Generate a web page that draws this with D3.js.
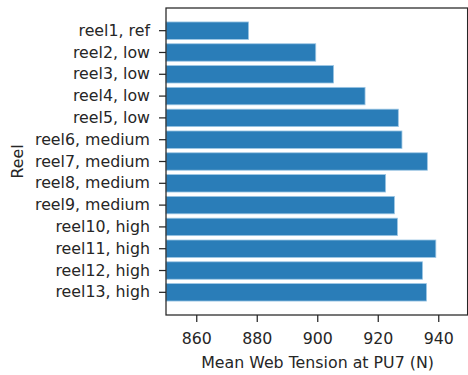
<!DOCTYPE html>
<html>
<head>
<meta charset="utf-8">
<script src="https://cdn.jsdelivr.net/npm/d3@7"></script>
<style>
  html, body { margin: 0; padding: 0; background: #fff; }
  svg { display: block; }
  text { font-family: "DejaVu Sans", sans-serif; fill: #262626; }
</style>
</head>
<body>
<svg id="chart" width="468" height="375"></svg>
<script>
// Reel labels, top to bottom
const reels = [
  "reel1, ref", "reel2, low", "reel3, low", "reel4, low", "reel5, low",
  "reel6, medium", "reel7, medium", "reel8, medium", "reel9, medium",
  "reel10, high", "reel11, high", "reel12, high", "reel13, high"
];
// Mean web tension at PU7 (N) per reel
const tension = [
  877.3, 899.5, 905.4, 915.8, 926.8,
  928.0, 936.4, 922.6, 925.5,
  926.5, 939.2, 934.8, 936.1
];
const xTicks = [860, 880, 900, 920, 940];
const xDomain = [850, 949.7];

const svg = d3.select("#chart");
const ink = "#262626";
const fontSize = 15.8;
const plot = { left: 166, right: 467.6, top: 8, bottom: 315 };

const x = d3.scaleLinear().domain(xDomain).range([plot.left, plot.right]);
const y = d3.scaleBand().domain(reels).range([plot.top, plot.bottom])
  .paddingInner(0.2).paddingOuter(0.64);

// bars
svg.append("g").selectAll("rect")
  .data(reels.map((r, i) => ({ reel: r, value: tension[i] })))
  .join("rect")
  .attr("x", x(xDomain[0]))
  .attr("y", d => y(d.reel))
  .attr("width", d => x(d.value) - x(xDomain[0]))
  .attr("height", y.bandwidth())
  .attr("fill", "#2a7db8")
  .attr("stroke", "#9cc6e4")
  .attr("stroke-width", 0.8);

// frame
svg.append("rect")
  .attr("x", plot.left).attr("y", plot.top)
  .attr("width", plot.right - plot.left).attr("height", plot.bottom - plot.top)
  .attr("fill", "none").attr("stroke", ink).attr("stroke-width", 1.25);

// x axis
const gx = svg.append("g").attr("transform", `translate(0,${plot.bottom})`)
  .call(d3.axisBottom(x).tickValues(xTicks).tickSize(7).tickPadding(11).tickFormat(d3.format("d")));
gx.select(".domain").remove();
gx.selectAll("line").attr("stroke", ink).attr("stroke-width", 1.25);
gx.selectAll("text").attr("font-size", fontSize).attr("fill", ink)
  .attr("font-family", "DejaVu Sans, sans-serif");

// y axis
const gy = svg.append("g").attr("transform", `translate(${plot.left},0)`)
  .call(d3.axisLeft(y).tickSize(7).tickPadding(9));
gy.select(".domain").remove();
gy.selectAll("line").attr("stroke", ink).attr("stroke-width", 1.25);
gy.selectAll("text").attr("font-size", fontSize).attr("fill", ink)
  .attr("font-family", "DejaVu Sans, sans-serif");

// axis titles
svg.append("text")
  .attr("x", 317.5).attr("y", 368)
  .attr("text-anchor", "middle").attr("font-size", fontSize)
  .text("Mean Web Tension at PU7 (N)");

svg.append("text")
  .attr("transform", `translate(23,${(plot.top + plot.bottom) / 2}) rotate(-90)`)
  .attr("text-anchor", "middle").attr("font-size", fontSize)
  .text("Reel");
</script>
</body>
</html>
